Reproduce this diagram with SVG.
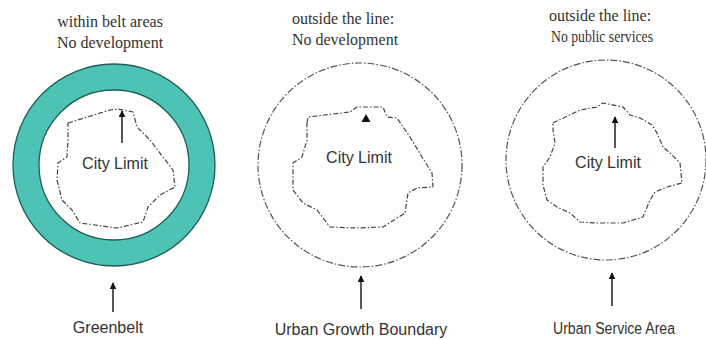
<svg xmlns="http://www.w3.org/2000/svg" width="706" height="339" viewBox="0 0 706 339">
<defs>
<marker id="ah" viewBox="0 0 10 10" refX="9" refY="5" markerWidth="7" markerHeight="7" markerUnits="userSpaceOnUse" orient="auto">
<path d="M0,0 L10,5 L0,10 Z" fill="#111"/>
</marker>
<style>
.top{font-family:"Liberation Serif","Times New Roman",serif;font-size:16px;fill:#333;text-anchor:middle}
.lbl{font-family:"Liberation Sans",Arial,sans-serif;font-size:16px;fill:#333;text-anchor:middle}
.city{fill:none;stroke:#444;stroke-width:1.2;stroke-dasharray:5 2 1.5 2;stroke-linejoin:round}
.bound{fill:none;stroke:#555;stroke-width:1.2;stroke-dasharray:7 2 1.5 2}
.arr{stroke:#111;stroke-width:1.4;fill:none;marker-end:url(#ah)}
</style>
</defs>
<rect width="706" height="339" fill="#fff"/>

<g id="greenbelt">
<circle cx="114" cy="165" r="88" fill="none" stroke="#4cc3b5" stroke-width="26"/>
<circle cx="114" cy="165" r="101" fill="none" stroke="#1f5e57" stroke-width="1.3"/>
<circle cx="114" cy="165" r="75" fill="none" stroke="#1f5e57" stroke-width="1.3"/>
<path class="city" d="M68,123 L110,110 L118,109 L133,112 L137,127 L150,140 L163,157 L173,170 L175,187 L160,195 L148,207 L143,222 L117,228 L80,223 L72,210 L62,200 L57,180 L58,163 L67,157 L68,140 Z"/>
<text class="lbl" x="115" y="169">City Limit</text>
<text class="top" x="110" y="27">within belt areas</text>
<text class="top" x="110" y="48">No development</text>
<text class="lbl" x="108" y="333">Greenbelt</text>
</g>

<g id="ugb">
<circle class="bound" cx="360" cy="165" r="102"/>
<path class="city" d="M307,123 L308,117 L350,112 L357,107 L383,107 L387,117 L397,118 L410,137 L422,157 L432,173 L433,187 L417,188 L408,193 L405,213 L383,227 L357,228 L330,227 L317,210 L303,203 L293,190 L293,163 L302,157 L307,140 Z"/>
<path d="M366,114 L370.5,122 L361.5,122 Z" fill="#111"/>
<text class="lbl" x="359" y="163">City Limit</text>
<text class="top" x="343" y="24">outside the line:</text>
<text class="top" x="345" y="45">No development</text>
<text class="lbl" x="361" y="335">Urban Growth Boundary</text>
</g>

<g id="usa">
<circle class="bound" cx="606" cy="160" r="100"/>
<path class="city" d="M553,123 L580,110 L597,107 L603,103 L623,107 L630,115 L640,118 L652,125 L657,133 L663,147 L670,153 L680,163 L682,183 L667,187 L655,192 L650,200 L643,217 L623,223 L597,223 L580,222 L570,213 L557,207 L547,200 L543,185 L543,167 L550,157 L555,143 L553,130 Z"/>
<text class="lbl" x="608" y="168">City Limit</text>
<text class="top" x="600" y="21" font-size="15">outside the line:</text>
<text class="top" x="602" y="42" font-size="15" textLength="102" lengthAdjust="spacingAndGlyphs">No public services</text>
<text class="lbl" x="614" y="334" textLength="122" lengthAdjust="spacingAndGlyphs">Urban Service Area</text>
</g>

<g id="connectors">
<line class="arr" x1="122" y1="143" x2="122" y2="111"/>
<line class="arr" x1="615" y1="148" x2="615" y2="117"/>
<line class="arr" x1="113" y1="312" x2="113" y2="283"/>
<line class="arr" x1="361" y1="309" x2="361" y2="276"/>
<line class="arr" x1="612" y1="306" x2="612" y2="273"/>
</g>
</svg>
